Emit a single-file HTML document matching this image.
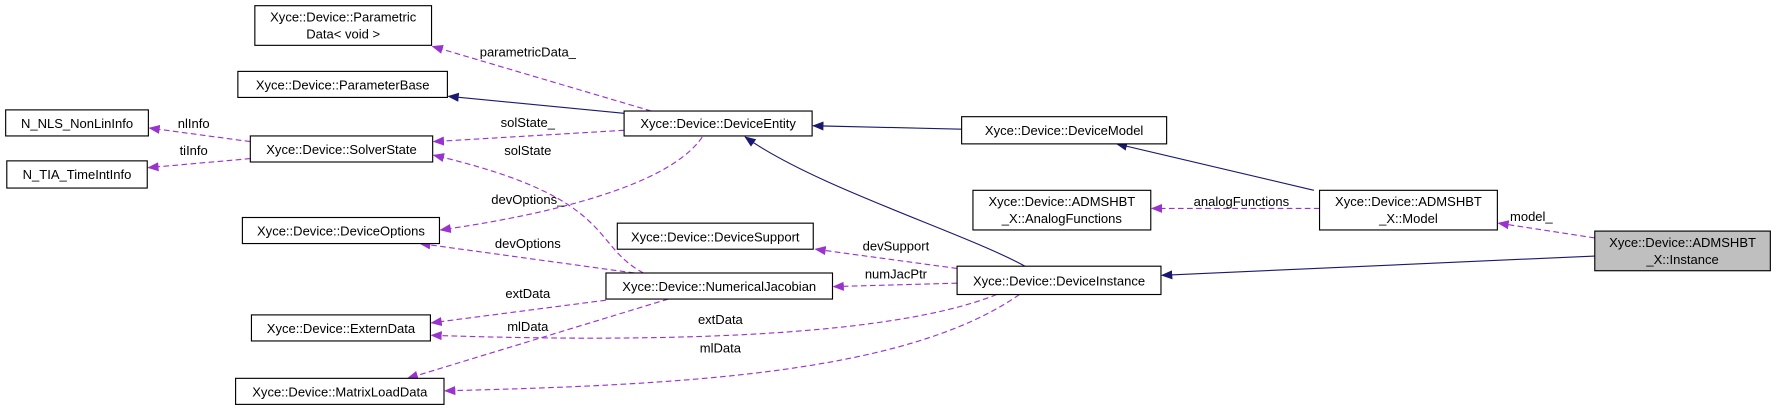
<!DOCTYPE html>
<html><head><meta charset="utf-8"><style>
html,body{margin:0;padding:0;background:#fff;width:1776px;height:412px;overflow:hidden}
svg{display:block}
text{font-family:"Liberation Sans",sans-serif;font-size:11.5px;fill:#000}
.n{fill:#fff;stroke:#000;stroke-width:1}
.d{fill:none;stroke:#9a32cd;stroke-width:1;stroke-dasharray:5,3}
.s{fill:none;stroke:#191970;stroke-width:1}
</style></head><body>
<svg width="1776" height="412" viewBox="0 0 1568 363.7" xmlns="http://www.w3.org/2000/svg">
<defs>
<marker id="ap" markerWidth="10" markerHeight="8" refX="9" refY="4" orient="auto" markerUnits="userSpaceOnUse"><path d="M0,0 L10,4 L0,8 z" fill="#9a32cd"/></marker>
<marker id="an" markerWidth="10" markerHeight="8" refX="9" refY="4" orient="auto" markerUnits="userSpaceOnUse"><path d="M0,0 L10,4 L0,8 z" fill="#191970"/></marker>
</defs>
<!-- edges -->
<path class="d" d="M575,98 L382,41" marker-end="url(#ap)"/>
<path class="s" d="M551,100 L396,85" marker-end="url(#an)"/>
<path class="d" d="M551,115 L383,125" marker-end="url(#ap)"/>
<path class="d" d="M221,125 L132,113" marker-end="url(#ap)"/>
<path class="d" d="M221,140 L131,148" marker-end="url(#ap)"/>
<path class="d" d="M620,121 C590,165 480,190 389,203" marker-end="url(#ap)"/>
<path class="d" d="M568,241 C520,215 545,175 383,137" marker-end="url(#ap)"/>
<path class="d" d="M560,241 L371,215" marker-end="url(#ap)"/>
<path class="s" d="M905,235 C850,205 720,165 658,121" marker-end="url(#an)"/>
<path class="s" d="M849,114 L718,111" marker-end="url(#an)"/>
<path class="s" d="M1160,168 L986,127" marker-end="url(#an)"/>
<path class="d" d="M1165,184 L1017,184" marker-end="url(#ap)"/>
<path class="d" d="M1408,210 L1323,197" marker-end="url(#ap)"/>
<path class="s" d="M1408,226 L1026,243" marker-end="url(#an)"/>
<path class="d" d="M845,237 L720,220" marker-end="url(#ap)"/>
<path class="d" d="M845,250 L736,253" marker-end="url(#ap)"/>
<path class="d" d="M535,265 L381,285" marker-end="url(#ap)"/>
<path class="d" d="M880,260 C780,300 560,302 381,296" marker-end="url(#ap)"/>
<path class="d" d="M590,264 L360,334" marker-end="url(#ap)"/>
<path class="d" d="M900,260 C800,330 600,340 393,345" marker-end="url(#ap)"/>
<!-- edge labels -->
<text x="466" y="50" text-anchor="middle">parametricData_</text>
<text x="466" y="112" text-anchor="middle">solState_</text>
<text x="466" y="137" text-anchor="middle">solState</text>
<text x="171" y="113" text-anchor="middle">nlInfo</text>
<text x="171" y="137" text-anchor="middle">tiInfo</text>
<text x="466" y="180" text-anchor="middle">devOptions_</text>
<text x="466" y="219" text-anchor="middle">devOptions</text>
<text x="466" y="263" text-anchor="middle">extData</text>
<text x="466" y="292" text-anchor="middle">mlData</text>
<text x="636" y="286" text-anchor="middle">extData</text>
<text x="636" y="311" text-anchor="middle">mlData</text>
<text x="791" y="221" text-anchor="middle">devSupport</text>
<text x="791" y="246" text-anchor="middle">numJacPtr</text>
<text x="1096" y="182" text-anchor="middle">analogFunctions</text>
<text x="1352" y="195" text-anchor="middle">model_</text>
<!-- nodes -->
<rect class="n" x="225" y="5" width="156" height="35"/><text x="303" y="19" text-anchor="middle">Xyce::Device::Parametric</text><text x="303" y="34" text-anchor="middle">Data&lt; void &gt;</text>
<rect class="n" x="210" y="63" width="185" height="23"/><text x="302.5" y="79" text-anchor="middle">Xyce::Device::ParameterBase</text>
<rect class="n" x="5" y="97" width="126" height="23"/><text x="68" y="113" text-anchor="middle">N_NLS_NonLinInfo</text>
<rect class="n" x="6" y="142" width="124" height="24"/><text x="68" y="158" text-anchor="middle">N_TIA_TimeIntInfo</text>
<rect class="n" x="221" y="120" width="161" height="23"/><text x="301.5" y="136" text-anchor="middle">Xyce::Device::SolverState</text>
<rect class="n" x="551" y="98" width="166" height="22"/><text x="634" y="113" text-anchor="middle">Xyce::Device::DeviceEntity</text>
<rect class="n" x="214" y="192" width="174" height="23"/><text x="301" y="208" text-anchor="middle">Xyce::Device::DeviceOptions</text>
<rect class="n" x="545" y="197" width="173" height="23"/><text x="631.5" y="213" text-anchor="middle">Xyce::Device::DeviceSupport</text>
<rect class="n" x="535" y="241" width="200" height="23"/><text x="635" y="257" text-anchor="middle">Xyce::Device::NumericalJacobian</text>
<rect class="n" x="222" y="278" width="158" height="23"/><text x="301" y="294" text-anchor="middle">Xyce::Device::ExternData</text>
<rect class="n" x="208" y="334" width="184" height="23"/><text x="300" y="350" text-anchor="middle">Xyce::Device::MatrixLoadData</text>
<rect class="n" x="849" y="103" width="181" height="24"/><text x="939.5" y="119" text-anchor="middle">Xyce::Device::DeviceModel</text>
<rect class="n" x="859" y="168" width="157" height="35"/><text x="937.5" y="182" text-anchor="middle">Xyce::Device::ADMSHBT</text><text x="937.5" y="197" text-anchor="middle">_X::AnalogFunctions</text>
<rect class="n" x="1165" y="168" width="157" height="35"/><text x="1243.5" y="182" text-anchor="middle">Xyce::Device::ADMSHBT</text><text x="1243.5" y="197" text-anchor="middle">_X::Model</text>
<rect x="1408" y="204" width="155" height="35" fill="#bfbfbf" stroke="#000"/><text x="1485.5" y="218" text-anchor="middle">Xyce::Device::ADMSHBT</text><text x="1485.5" y="233" text-anchor="middle">_X::Instance</text>
<rect class="n" x="845" y="235" width="180" height="25"/><text x="935" y="252" text-anchor="middle">Xyce::Device::DeviceInstance</text>
</svg>
</body></html>
